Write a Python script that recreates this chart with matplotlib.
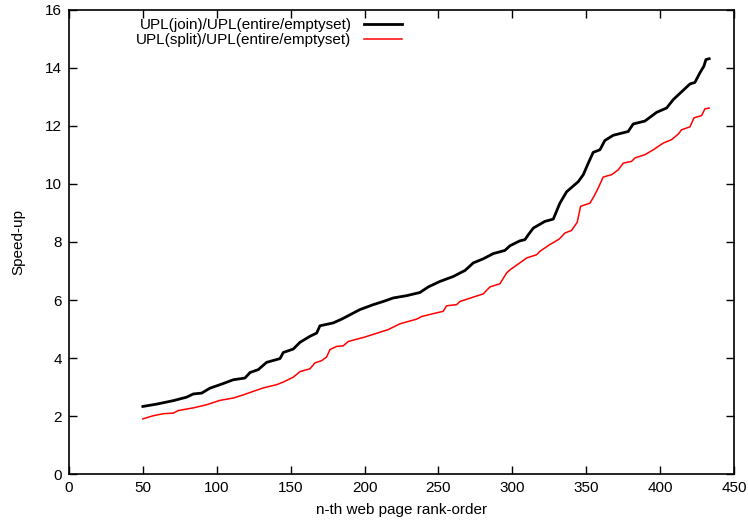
import matplotlib
matplotlib.use("Agg")
import matplotlib.pyplot as plt

plt.rcParams["font.family"] = ["Liberation Sans", "DejaVu Sans"]

# black curve: UPL(join)/UPL(entire/emptyset)
join_x = [50, 59.3, 70.6, 79.6, 84.1, 89.8, 95.4, 103.3, 111.2, 119.1, 122.5, 128.1,
          133.7, 142.8, 145, 151.8, 156.3, 163.1, 167.6, 169.8, 178.8, 184.5, 187.9,
          196.9, 205.9, 212.7, 219.4, 228.5, 237.5, 243.1, 251, 260, 268, 273.6,
          280.3, 287.1, 295, 298.4, 305.1, 308.5, 310.8, 314.2, 322, 327.7, 332.2,
          336.7, 344.6, 348, 351.4, 354.7, 359.3, 362.6, 368.3, 378.4, 381.8, 389.7,
          397.6, 404.4, 408.9, 415.6, 420.2, 423.5, 426.9, 429.6, 431, 433.2]
join_y = [2.33, 2.41, 2.53, 2.65, 2.76, 2.79, 2.96, 3.10, 3.25, 3.31, 3.50, 3.60,
          3.85, 3.98, 4.19, 4.31, 4.54, 4.75, 4.86, 5.11, 5.21, 5.34, 5.43,
          5.67, 5.84, 5.95, 6.07, 6.15, 6.26, 6.45, 6.64, 6.81, 7.02, 7.28,
          7.42, 7.60, 7.71, 7.87, 8.04, 8.08, 8.25, 8.48, 8.71, 8.79, 9.34,
          9.73, 10.08, 10.32, 10.72, 11.09, 11.18, 11.50, 11.68, 11.81, 12.07, 12.17,
          12.47, 12.62, 12.91, 13.23, 13.45, 13.50, 13.83, 14.06, 14.29, 14.32]

# red curve: UPL(split)/UPL(entire/emptyset)
split_x = [50, 57, 63.8, 70.6, 74, 84.1, 93.2, 102.2, 111.2, 118, 124.7, 131.5,
           140.5, 145, 151.8, 156.3, 163.1, 166.4, 171, 174.4, 176.6, 181.1, 185.6,
           189, 200, 216, 224, 235.2, 238.6, 246.5, 253.2, 255.5, 262.3, 264.6,
           273.6, 280.3, 284.8, 291.6, 296.1, 298.4, 305.1, 309.7, 316.4, 318.7,
           325, 331.7, 335.6, 340.1, 343.9, 346.2, 352.5, 355.2, 358.1, 361.5,
           367.2, 371.7, 375.1, 380.7, 383, 389.7, 395.4, 402.1, 407.8, 412.3,
           414.5, 420.2, 422.9, 428.1, 430.3, 433.2]
split_y = [1.90, 2.01, 2.08, 2.10, 2.19, 2.28, 2.39, 2.54, 2.62, 2.73, 2.85, 2.97,
           3.08, 3.17, 3.34, 3.53, 3.63, 3.83, 3.91, 4.04, 4.29, 4.40, 4.42,
           4.57, 4.72, 4.98, 5.18, 5.34, 5.43, 5.53, 5.61, 5.80, 5.84, 5.95,
           6.10, 6.21, 6.45, 6.56, 6.93, 7.04, 7.28, 7.45, 7.56, 7.68,
           7.90, 8.10, 8.31, 8.40, 8.68, 9.23, 9.34, 9.57, 9.86, 10.24,
           10.32, 10.49, 10.72, 10.78, 10.90, 11.01, 11.18, 11.41, 11.53, 11.72,
           11.87, 11.97, 12.28, 12.36, 12.59, 12.62]

fig, ax = plt.subplots(figsize=(7.48, 5.25), dpi=100)
fig.subplots_adjust(left=0.0922, right=0.9813, top=0.981, bottom=0.0971)

ax.plot(join_x, join_y, color='black', lw=2.0, label='UPL(join)/UPL(entire/emptyset)')
ax.plot(split_x, split_y, color='red', lw=1.1, label='UPL(split)/UPL(entire/emptyset)')

ax.set_xlim(0, 450)
ax.set_ylim(0, 16)
ax.set_xticks(range(0, 451, 50))
ax.set_yticks(range(0, 17, 2))
ax.tick_params(direction='in', top=True, right=True, length=6, width=1,
               labelsize=11, pad=5)
for s in ax.spines.values():
    s.set_linewidth(1.2)

ax.set_xlabel('n-th web page rank-order', fontsize=11, labelpad=6)
ax.set_ylabel('Speed-up', fontsize=11, labelpad=14)

ax.legend(loc='upper left', bbox_to_anchor=(0.085, 1.005), frameon=False,
          markerfirst=False, fontsize=11, handlelength=2.5, handletextpad=0.8,
          labelspacing=0.05, borderaxespad=0.3)
leg = ax.get_legend()
for t in leg.get_texts():
    t.set_ha('right')
leg._legend_box.align = "right"

plt.savefig('out.png', dpi=100)
